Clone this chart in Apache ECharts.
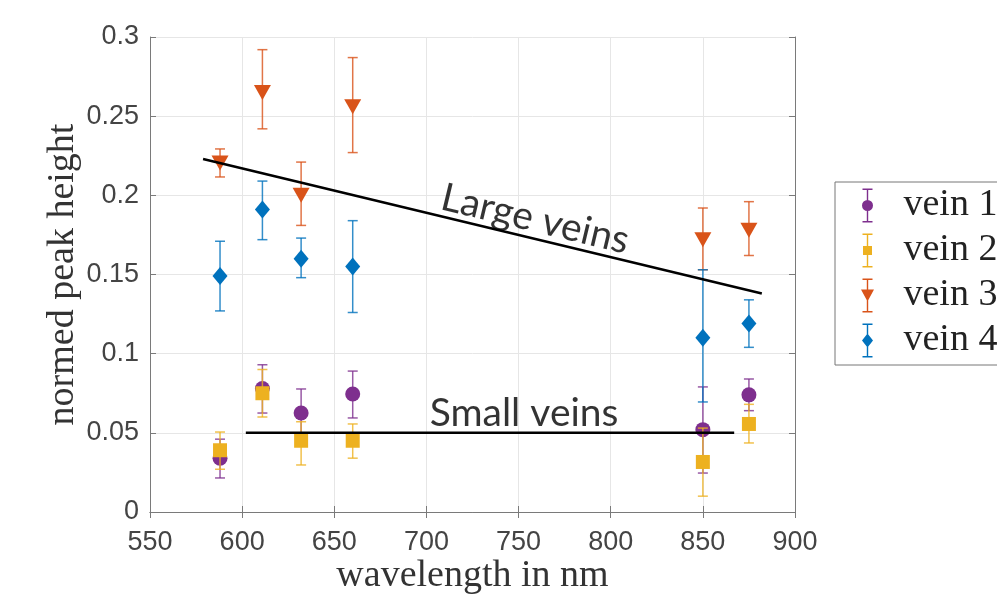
<!DOCTYPE html>
<html>
<head>
<meta charset="utf-8">
<script src="https://cdn.jsdelivr.net/npm/echarts@6/dist/echarts.min.js"></script>
<style>html,body{margin:0;padding:0;background:#fff;}#c{width:997px;height:596px;}</style>
</head>
<body>
<div id="c"></div>
<script>
const wavelengths = [588, 611, 632, 660, 850, 875];

const vein1 = [0.034, 0.078, 0.0625, 0.0745, 0.052, 0.074];
const vein1Low = [0.0215, 0.0625, 0.047, 0.0594, 0.0246, 0.064];
const vein1High = [0.046, 0.093, 0.0777, 0.089, 0.079, 0.084];

const vein2 = [0.039, 0.075, 0.045, 0.045, 0.0316, 0.0556];
const vein2Low = [0.027, 0.060, 0.0297, 0.034, 0.010, 0.0436];
const vein2High = [0.0505, 0.090, 0.057, 0.0556, 0.053, 0.068];

const vein3 = [0.2205, 0.265, 0.200, 0.256, 0.172, 0.178];
const vein3Low = [0.2116, 0.242, 0.181, 0.227, 0.153, 0.162];
const vein3High = [0.2293, 0.292, 0.221, 0.287, 0.192, 0.196];

const vein4 = [0.149, 0.191, 0.160, 0.155, 0.110, 0.119];
const vein4Low = [0.127, 0.172, 0.148, 0.126, 0.0695, 0.104];
const vein4High = [0.171, 0.209, 0.173, 0.184, 0.153, 0.134];

const seriesNames = ['vein 1', 'vein 2', 'vein 3', 'vein 4'];
const xTicks = [550, 600, 650, 700, 750, 800, 850, 900];
const yTicks = [0, 0.05, 0.1, 0.15, 0.2, 0.25, 0.3];

const largeVeinsLine = [[578.8, 0.223], [882, 0.138]];
const smallVeinsLine = [[602, 0.05], [867, 0.05]];
const largeVeinsLabel = [[759, 0.185]];
const smallVeinsLabel = [[753, 0.0625]];

const colors = ['#7E2F8E', '#EDB120', '#D95319', '#0072BD'];
const symbols = ['circle', 'rect', 'triangle', 'diamond'];
const symbolSizes = [15, 14, [17, 15], [15, 18]];
const symbolRotates = [0, 0, 180, 0];
const values = [vein1, vein2, vein3, vein4];
const lows = [vein1Low, vein2Low, vein3Low, vein4Low];
const highs = [vein1High, vein2High, vein3High, vein4High];

const barPath = 'M2,0 h10 v1.4 h-10 Z M6.3,0 h1.4 v34 h-1.4 Z M2,32.6 h10 v1.4 h-10 Z ';
const legendIcons = [
  'path://' + barPath + 'M12.5,17 A5.5,5.5 0 1,1 1.5,17 A5.5,5.5 0 1,1 12.5,17 Z',
  'path://' + barPath + 'M2.5,12.5 h9 v9 h-9 Z',
  'path://' + barPath + 'M0.5,11 L13.5,11 L7,23 Z',
  'path://' + barPath + 'M7,10 L12.5,17 L7,24 L1.5,17 Z'
];

const series = [];
for (let i = 0; i < 4; i++) {
  const errData = wavelengths.map((w, k) => [w, lows[i][k], highs[i][k]]);
  series.push({
    type: 'custom',
    name: seriesNames[i] + ' err',
    xAxisIndex: 0, yAxisIndex: 0,
    data: errData,
    encode: { x: 0, y: [1, 2] },
    z: 2 + i * 2,
    silent: true,
    renderItem: (function (col) {
      return function (params, api) {
        const lo = api.coord([api.value(0), api.value(1)]);
        const hi = api.coord([api.value(0), api.value(2)]);
        const hw = 5;
        const st = { stroke: col, lineWidth: 1.5, opacity: 0.8 };
        return {
          type: 'group',
          children: [
            { type: 'line', shape: { x1: lo[0], y1: lo[1], x2: hi[0], y2: hi[1] }, style: st },
            { type: 'line', shape: { x1: lo[0] - hw, y1: lo[1], x2: lo[0] + hw, y2: lo[1] }, style: st },
            { type: 'line', shape: { x1: hi[0] - hw, y1: hi[1], x2: hi[0] + hw, y2: hi[1] }, style: st }
          ]
        };
      };
    })(colors[i])
  });
  series.push({
    type: 'scatter',
    name: seriesNames[i],
    xAxisIndex: 0, yAxisIndex: 0,
    data: wavelengths.map((w, k) => [w, values[i][k]]),
    symbol: symbols[i],
    symbolSize: symbolSizes[i],
    symbolRotate: symbolRotates[i],
    itemStyle: { color: colors[i], opacity: 1 },
    z: 3 + i * 2
  });
}

series.push({
  type: 'line', name: 'large', data: largeVeinsLine, symbol: 'none', z: 20,
  lineStyle: { color: '#000', width: 2.5 }, silent: true
});
series.push({
  type: 'line', name: 'small', data: smallVeinsLine, symbol: 'none', z: 20,
  lineStyle: { color: '#000', width: 2.5 }, silent: true
});
series.push({
  type: 'scatter', name: 'largeLabel', data: largeVeinsLabel, symbolSize: 0, z: 21, silent: true,
  label: { show: true, position: 'inside', formatter: 'Large veins', rotate: -13.5,
    fontFamily: 'Lato', fontSize: 39, color: '#000' }
});
series.push({
  type: 'scatter', name: 'smallLabel', data: smallVeinsLabel, symbolSize: 0, z: 21, silent: true,
  label: { show: true, position: 'inside', formatter: 'Small veins',
    fontFamily: 'Lato', fontSize: 39, color: '#000' }
});

const axisLineColor = '#7a7a7a';
const tickLabelColor = '#444';
const chart = echarts.init(document.getElementById('c'));
chart.setOption({
  animation: false,
  backgroundColor: '#fff',
  grid: { left: 150, top: 37, width: 645, height: 475, containLabel: false, outerBoundsMode: 'none' },
  legend: {
    data: seriesNames.map((n, i) => ({ name: n, icon: legendIcons[i] })),
    orient: 'vertical',
    left: 835, top: 182,
    itemWidth: 14, itemHeight: 34, itemGap: 6,
    padding: [4, 60, 5, 26],
    borderColor: '#777', borderWidth: 1,
    selectedMode: false,
    textStyle: { fontFamily: 'Liberation Serif', fontSize: 38, color: '#222', padding: [0, 0, 0, 24], lineHeight: 39 }
  },
  xAxis: [{
    type: 'value', min: 550, max: 900, interval: 50,
    name: 'wavelength in nm', nameLocation: 'middle', nameGap: 45, nameMoveOverlap: false,
    nameTextStyle: { fontFamily: 'Liberation Serif', fontSize: 38, color: '#333' },
    axisLine: { show: true, lineStyle: { color: axisLineColor, width: 1 } },
    axisTick: { show: true, inside: true, length: 6, lineStyle: { color: axisLineColor } },
    axisLabel: { fontFamily: 'Liberation Sans', fontSize: 27, color: tickLabelColor, margin: 17,
      formatter: v => xTicks.includes(v) ? String(v) : '' },
    splitLine: { show: true, lineStyle: { color: '#e6e6e6', width: 1 } }
  }, {
    type: 'value', position: 'top', min: 550, max: 900, interval: 50,
    axisLine: { show: true, lineStyle: { color: axisLineColor, width: 1 } },
    axisTick: { show: true, inside: true, length: 6, lineStyle: { color: axisLineColor } },
    axisLabel: { show: false }, splitLine: { show: false }
  }],
  yAxis: [{
    type: 'value', min: 0, max: 0.3, interval: 0.05,
    name: 'normed peak height', nameLocation: 'middle', nameGap: 68, nameRotate: 90, nameMoveOverlap: false,
    nameTextStyle: { fontFamily: 'Liberation Serif', fontSize: 38, color: '#333' },
    axisLine: { show: true, lineStyle: { color: axisLineColor, width: 1 } },
    axisTick: { show: true, inside: true, length: 6, lineStyle: { color: axisLineColor } },
    axisLabel: { fontFamily: 'Liberation Sans', fontSize: 27, color: tickLabelColor, margin: 11,
      formatter: v => { const t = yTicks.find(y => Math.abs(y - v) < 1e-9); return t === undefined ? '' : String(t); } },
    splitLine: { show: true, lineStyle: { color: '#e6e6e6', width: 1 } }
  }, {
    type: 'value', position: 'right', min: 0, max: 0.3, interval: 0.05,
    axisLine: { show: true, lineStyle: { color: axisLineColor, width: 1 } },
    axisTick: { show: true, inside: true, length: 6, lineStyle: { color: axisLineColor } },
    axisLabel: { show: false }, splitLine: { show: false }
  }],
  series: series
});
</script>
</body>
</html>
